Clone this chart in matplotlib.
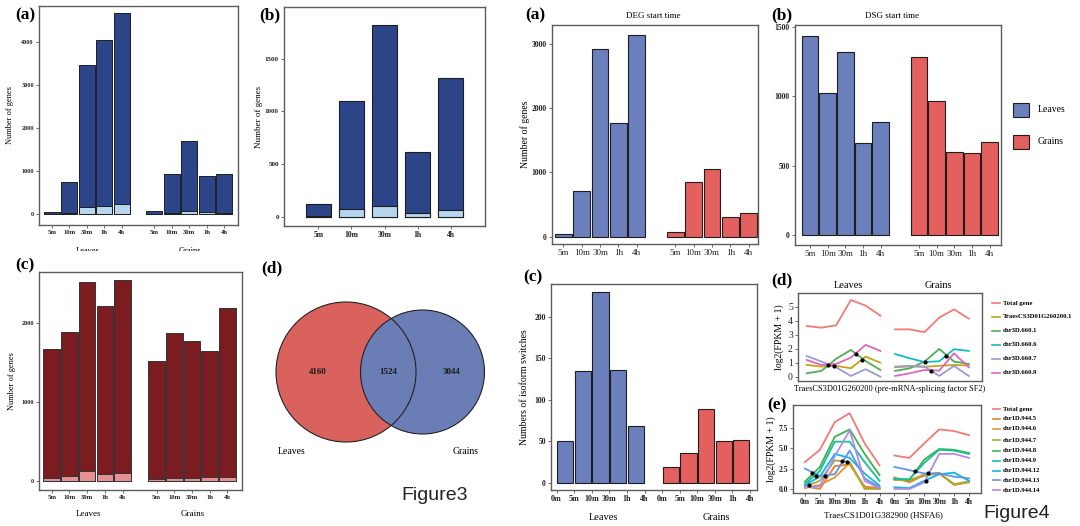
import numpy as np
import matplotlib
matplotlib.use("Agg")
import matplotlib.pyplot as plt
from matplotlib.patches import Circle, Rectangle
from matplotlib.lines import Line2D

# ---------------- data ----------------
times = ['5m', '10m', '30m', '1h', '4h']
edges = ['0m', '5m', '10m', '30m', '1h', '4h']
groups = ['Leaves', 'Grains']

# Figure 3 (a)
f3a_leaves_total = [47, 741, 3478, 4062, 4686]
f3a_leaves_light = [12, 30, 164, 203, 242]
f3a_grains_total = [70, 936, 1700, 881, 936]
f3a_grains_light = [10, 23, 78, 55, 39]
# Figure 3 (b)
f3b_total = [126, 1096, 1822, 616, 1314]
f3b_light = [13, 76, 107, 38, 69]
# Figure 3 (c)
f3c_leaves_total = [1669, 1890, 2530, 2224, 2551]
f3c_leaves_light = [38, 59, 127, 80, 102]
f3c_grains_total = [1525, 1873, 1775, 1652, 2191]
f3c_grains_light = [17, 30, 38, 51, 51]
# Figure 3 (d) venn
venn_labels = ['Leaves', 'Grains']
venn_counts = [4160, 1524, 3044]

# Figure 4 (a) DEG start time
f4a_leaves = [36, 716, 2917, 1765, 3140]
f4a_grains = [78, 856, 1054, 311, 363]
# Figure 4 (b) DSG start time
f4b_leaves = [1435, 1025, 1315, 660, 816]
f4b_grains = [1284, 967, 600, 588, 667]
# Figure 4 (c) isoform switches
f4c_leaves = [50, 135, 230, 136, 69]
f4c_grains = [19, 36, 89, 50, 51]

# Figure 4 (d)
d_names = ['Total gene', 'TraesCS3D01G260200.1', 'chr3D.660.1', 'chr3D.660.6',
           'chr3D.660.7', 'chr3D.660.9']
d_leaves = [
    [3.64, 3.52, 3.69, 5.50, 5.10, 4.38],
    [0.86, 0.74, 0.79, 0.62, 1.45, 1.02],
    [0.26, 0.43, 1.30, 1.93, 1.14, 0.50],
    [np.nan] * 6,
    [1.50, 1.10, 0.69, 0.07, 0.55, 0.02],
    [1.21, 0.86, 0.93, 1.38, 2.29, 1.86],
]
d_grains = [
    [3.40, 3.40, 3.20, 4.24, 4.83, 4.17],
    [0.70, 0.75, 0.72, 0.80, 0.85, 0.82],
    [0.43, 0.62, 1.10, 2.00, 1.10, 0.93],
    [1.64, 1.33, 1.07, 1.12, 1.98, 1.86],
    [0.74, 0.79, 0.74, 0.07, 0.79, 0.07],
    [0.07, 0.26, 0.50, 0.45, 1.69, 0.69],
]
d_dots_x = [1.48, 1.82, 3.36, 3.75, 8.04, 8.44, 9.49]
d_dots_y = [0.86, 0.79, 1.64, 1.21, 1.07, 0.45, 1.50]

# Figure 4 (e)
e_names = ['Total gene', 'chr1D.944.5', 'chr1D.944.6', 'chr1D.944.7', 'chr1D.944.8',
           'chr1D.944.9', 'chr1D.944.12', 'chr1D.944.13', 'chr1D.944.14']
e_leaves = [
    [3.3, 4.8, 8.2, 9.3, 5.6, 2.9],
    [0.3, 0.0, 2.8, 3.0, 0.3, 0.1],
    [0.1, 0.5, 1.4, 3.2, 0.0, 0.0],
    [0.3, 1.0, 3.5, 3.3, 0.1, 0.0],
    [0.9, 2.7, 6.4, 7.3, 4.3, 1.7],
    [0.6, 2.2, 5.8, 5.8, 3.3, 1.0],
    [0.5, 1.5, 4.3, 3.8, 1.9, 0.4],
    [2.5, 1.6, 1.8, 4.7, 1.3, 0.2],
    [0.2, 0.3, 4.0, 7.2, 1.0, 0.1],
]
e_grains = [
    [4.1, 3.8, 5.6, 7.3, 7.1, 6.6],
    [1.4, 0.8, 1.7, 2.0, 0.5, 0.9],
    [1.2, 1.0, 1.8, 1.9, 0.5, 0.8],
    [1.1, 1.1, 1.6, 1.9, 0.6, 0.9],
    [1.3, 1.1, 3.6, 4.9, 4.8, 4.4],
    [1.2, 1.2, 3.2, 4.8, 4.7, 4.3],
    [0.2, 0.1, 1.0, 1.8, 2.0, 1.0],
    [2.7, 2.3, 1.9, 1.9, 1.5, 1.3],
    [0.0, 0.0, 0.8, 4.3, 4.3, 3.8],
]
e_dots_x = [0.49, 0.74, 0.29, 1.34, 2.46, 2.84, 7.38, 8.28, 8.10]
e_dots_y = [1.93, 1.60, 0.49, 1.60, 3.44, 3.27, 2.20, 1.93, 1.02]

# ---------------- style ----------------
W, H = 1080, 526
SERIF = 'Liberation Serif'
plt.rcParams['font.family'] = SERIF
NAVY, LIGHT = '#2C4488', '#B6D5EE'
DRED, PINK = '#7B1D20', '#E59093'
BLUE, RED = '#6A7FBB', '#E4605E'
VRED, VBLUE = '#D9625F', '#6A7DB4'
EDGE = '#1e1e1e'
FRAME = '#5c5c5c'

d_colors = ['#F07A74', '#C4A21A', '#4FAE55', '#12BCC4', '#9C98DC', '#E064C4']
e_colors = ['#F07A74', '#EB7F2A', '#E09A30', '#A8A838', '#3DB24E',
            '#14C09A', '#10B6E0', '#5E96E8', '#B088F0']

fig = plt.figure(figsize=(W / 100, H / 100), dpi=100)


def add_ax(l, t, r, b, lsize=5):
    ax = fig.add_axes([l / W, 1 - b / H, (r - l) / W, (b - t) / H])
    for s in ax.spines.values():
        s.set_color(FRAME)
        s.set_linewidth(1.0)
    ax.tick_params(direction='out', length=2.2, width=0.6, color='#555',
                   pad=1.5, labelsize=lsize, labelcolor='#222')
    return ax


def ftext(x, y, s, **kw):
    kw.setdefault('ha', 'center')
    kw.setdefault('va', 'center')
    return fig.text(x / W, 1 - y / H, s, **kw)


def set_ticks(ax, xpos, xlab, ypos, ylab, xs=5, ys=5, bold=True):
    w = 'bold' if bold else 'normal'
    ax.set_xticks(xpos)
    ax.set_xticklabels(xlab, fontsize=xs, fontweight=w)
    ax.set_yticks(ypos)
    ax.set_yticklabels(ylab, fontsize=ys, fontweight=w)


# ---------------- Figure 3 (a) ----------------
ax = add_ax(39, 6, 238, 225)
xl = np.arange(5)
xg = np.arange(5) + 5.86
for xx, tot, lig in [(xl, f3a_leaves_total, f3a_leaves_light),
                     (xg, f3a_grains_total, f3a_grains_light)]:
    ax.bar(xx, tot, 0.92, color=NAVY, edgecolor=EDGE, linewidth=0.7)
    ax.bar(xx, lig, 0.92, color=LIGHT, edgecolor=EDGE, linewidth=0.7)
ax.set_xlim(-0.73, 10.65)
ax.set_ylim(-250, 4850)
set_ticks(ax, list(xl) + list(xg), times * 2, [0, 1000, 2000, 3000, 4000],
          ['0', '1000', '2000', '3000', '4000'], xs=4.8, ys=4.5)
ax.set_ylabel('Number of genes', fontsize=6, labelpad=5)
ftext(88, 251, groups[0], fontsize=6)
ftext(190, 251, groups[1], fontsize=6)
fig.patches.append(Rectangle((0, 1 - 258 / H), 250 / W, 7.5 / H,
                             transform=fig.transFigure, fc='white', ec='none', zorder=20))

# ---------------- Figure 3 (b) ----------------
ax = add_ax(284, 7, 485, 226)
xb = np.arange(5)
ax.bar(xb, f3b_total, 0.75, color=NAVY, edgecolor=EDGE, linewidth=0.8)
ax.bar(xb, f3b_light, 0.75, color=LIGHT, edgecolor=EDGE, linewidth=0.8)
ax.set_xlim(-1.04, 5.04)
ax.set_ylim(-85, 1990)
set_ticks(ax, xb, times, [0, 500, 1000, 1500], ['0', '500', '1000', '1500'], xs=5.5, ys=5)
ax.set_ylabel('Number of genes', fontsize=6.5, labelpad=1)

# ---------------- Figure 3 (c) ----------------
ax = add_ax(39, 272, 242, 490)
xl = np.arange(5)
xg = np.arange(5) + 5.93
for xx, tot, lig in [(xl, f3c_leaves_total, f3c_leaves_light),
                     (xg, f3c_grains_total, f3c_grains_light)]:
    ax.bar(xx, tot, 0.94, color=DRED, edgecolor='#333', linewidth=0.7)
    ax.bar(xx, lig, 0.94, color=PINK, edgecolor='#333', linewidth=0.7)
ax.set_xlim(-0.72, 10.75)
ax.set_ylim(-119, 2652)
set_ticks(ax, list(xl) + list(xg), times * 2, [0, 1000, 2000], ['0', '1000', '2000'],
          xs=4.8, ys=4.5)
ax.set_ylabel('Number of genes', fontsize=6, labelpad=4)
ftext(88, 514, groups[0], fontsize=6.5)
ftext(193, 514, groups[1], fontsize=6.5)

# ---------------- Figure 3 (d) Venn ----------------
vax = fig.add_axes([250 / W, 0, 250 / W, 276 / H])
vax.set_xlim(250, 500)
vax.set_ylim(526, 250)
vax.axis('off')
vax.add_patch(Circle((346, 372), 70, fc=VRED, ec='none'))
vax.add_patch(Circle((422.5, 372), 62, fc=VBLUE, ec='none'))
vax.add_patch(Circle((346, 372), 70, fill=False, ec='#222', lw=0.8))
vax.add_patch(Circle((422.5, 372), 62, fill=False, ec='#222', lw=0.8))
for xx, c in zip([318, 388, 452], venn_counts):
    vax.text(xx, 372, str(c), ha='center', va='center', fontsize=6.5,
             fontweight='bold', color='#1a1a1a')
vax.text(292, 452, venn_labels[0], ha='center', va='center', fontsize=7)
vax.text(466, 452, venn_labels[1], ha='center', va='center', fontsize=7)
ftext(435, 495, 'Figure3', fontsize=14, family='Liberation Sans', color='#222')

# ---------------- Figure 4 (a) ----------------
ax = add_ax(552, 25, 758, 244)
xl = np.arange(5)
xg = np.arange(5) + 6.09
ax.bar(xl, f4a_leaves, 0.91, color=BLUE, edgecolor=EDGE, linewidth=0.8)
ax.bar(xg, f4a_grains, 0.91, color=RED, edgecolor=EDGE, linewidth=0.8)
ax.set_xlim(-0.62, 10.6)
ax.set_ylim(-114, 3296)
set_ticks(ax, list(xl) + list(xg), times * 2, [0, 1000, 2000, 3000],
          ['0', '1000', '2000', '3000'], xs=6.5, ys=5.5)
for lab in ax.get_xticklabels():
    lab.set_fontweight('normal')
ax.set_ylabel('Number of genes', fontsize=7, labelpad=1)
ftext(653, 16, 'DEG start time', fontsize=6.5)

# ---------------- Figure 4 (b) ----------------
ax = add_ax(795, 25, 1001, 245)
xl = np.arange(5)
xg = np.arange(5) + 6.16
ax.bar(xl, f4b_leaves, 0.94, color=BLUE, edgecolor=EDGE, linewidth=0.8)
ax.bar(xg, f4b_grains, 0.94, color=RED, edgecolor=EDGE, linewidth=0.8)
ax.set_xlim(-0.85, 10.8)
ax.set_ylim(-72, 1512)
set_ticks(ax, list(xl) + list(xg), times * 2, [0, 500, 1000, 1500],
          ['0', '500', '1000', '1500'], xs=6.5, ys=5.5)
for lab in ax.get_xticklabels():
    lab.set_fontweight('normal')
ftext(892, 16, 'DSG start time', fontsize=6.5)
for (yt, yb), col, name in [((103, 117), BLUE, groups[0]), ((135, 149), RED, groups[1])]:
    fig.patches.append(Rectangle((1013 / W, 1 - yb / H), 16 / W, (yb - yt) / H,
                                 transform=fig.transFigure, fc=col, ec=EDGE, lw=0.8))
    ftext(1038, (yt + yb) / 2, name, fontsize=7, ha='left')

# ---------------- Figure 4 (c) ----------------
ax = add_ax(551, 284, 757, 490)
xl = np.arange(5) + 0.5
xg = np.arange(5) + 6.5
ax.bar(xl, f4c_leaves, 0.92, color=BLUE, edgecolor=EDGE, linewidth=0.8)
ax.bar(xg, f4c_grains, 0.92, color=RED, edgecolor=EDGE, linewidth=0.8)
ax.set_xlim(-0.32, 11.4)
ax.set_ylim(-8.9, 240)
set_ticks(ax, list(range(6)) + list(range(6, 12)), edges * 2, [0, 50, 100, 150, 200],
          ['0', '50', '100', '150', '200'], xs=5.8, ys=5.5)
ax.set_ylabel('Numbers of isoform switches', fontsize=7, labelpad=4)
ftext(603, 517, groups[0], fontsize=7.5)
ftext(716, 517, groups[1], fontsize=7.5)

# ---------------- Figure 4 (d) ----------------
ax = add_ax(798, 293, 982, 381)
xl = np.arange(6)
xg = np.arange(6) + 6
for i in range(len(d_names)):
    ax.plot(xl, d_leaves[i], color=d_colors[i], lw=1.3)
    ax.plot(xg, d_grains[i], color=d_colors[i], lw=1.3)
ax.scatter(d_dots_x, d_dots_y, s=4, color='black', zorder=5)
ax.set_xlim(-0.59, 11.9)
ax.set_ylim(-0.29, 6.0)
ax.set_xticks([])
ax.set_yticks([0, 1, 2, 3, 4, 5])
ax.set_yticklabels(['0', '1', '2', '3', '4', '5'], fontsize=7)
ax.set_ylabel('log2(FPKM + 1)', fontsize=7, labelpad=3)
ftext(848, 285, groups[0], fontsize=7.5)
ftext(938, 285, groups[1], fontsize=7.5)
ftext(890, 389, 'TraesCS3D01G260200 (pre-mRNA-splicing factor SF2)', fontsize=6)
for yy, name, col in zip([303, 317, 331, 345, 359, 373], d_names, d_colors):
    fig.add_artist(Line2D([992 / W, 1000 / W], [1 - yy / H] * 2, color=col, lw=1.2))
    ftext(1003, yy, name, fontsize=4.8, ha='left', fontweight='bold')

# ---------------- Figure 4 (e) ----------------
ax = add_ax(793, 405, 981, 493)
for i in range(len(e_names)):
    ax.plot(xl, e_leaves[i], color=e_colors[i], lw=1.3)
    ax.plot(xg, e_grains[i], color=e_colors[i], lw=1.3)
ax.scatter(e_dots_x, e_dots_y, s=4, color='black', zorder=5)
ax.set_xlim(-0.8, 11.8)
ax.set_ylim(-0.5, 10.3)
set_ticks(ax, list(range(12)), edges * 2, [0, 2.5, 5.0, 7.5],
          ['0.0', '2.5', '5.0', '7.5'], xs=5.5, ys=5.5)
ax.set_ylabel('log2(FPKM + 1)', fontsize=7, labelpad=2)
ftext(883, 515, 'TraesCS1D01G382900 (HSFA6)', fontsize=6.5)
for yy, name, col in zip([409, 419, 429, 440, 451, 461, 471, 480, 490], e_names, e_colors):
    fig.add_artist(Line2D([993 / W, 1000 / W], [1 - yy / H] * 2, color=col, lw=1.2))
    ftext(1003, yy, name, fontsize=4.8, ha='left', fontweight='bold')
ftext(1017, 513, 'Figure4', fontsize=14, family='Liberation Sans', color='#222')

# ---------------- panel letters ----------------
for (x, y), s in [((25, 15), '(a)'), ((270, 15), '(b)'), ((25, 265), '(c)'),
                  ((272, 268), '(d)'), ((535, 15), '(a)'), ((782, 15), '(b)'),
                  ((533, 277), '(c)'), ((782, 280), '(d)'), ((777, 405), '(e)')]:
    ftext(x, y, s, fontsize=12.5, fontweight='bold')

fig.savefig('out.png', dpi=100)
